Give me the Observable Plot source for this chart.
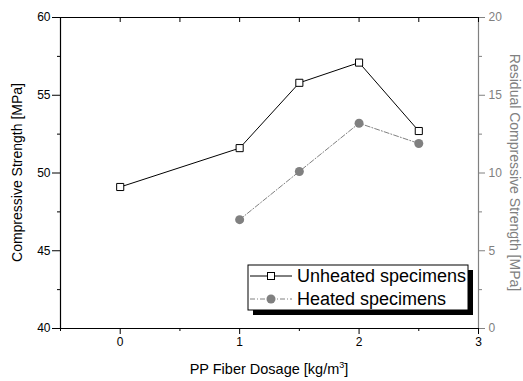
<!DOCTYPE html>
<html>
<head>
<meta charset="utf-8">
<script src="https://cdn.jsdelivr.net/npm/d3@7"></script>
<script src="https://cdn.jsdelivr.net/npm/@observablehq/plot@0.6"></script>
<style>
  html, body { margin: 0; padding: 0; background: #fff; }
  #chart svg { display: block; }
</style>
</head>
<body>
<div id="chart"></div>
<script>
// ---- data ----
const dosage = [0, 1, 1.5, 2, 2.5];
const unheated = [49.1, 51.6, 55.8, 57.1, 52.7];
const heatedDosage = [1, 1.5, 2, 2.5];
const heated = [7.0, 10.1, 13.2, 11.9];
const xTicks = [0, 1, 2, 3];
const xMinorTicks = [-0.5, 0.5, 1.5, 2.5];
const leftTicks = [40, 45, 50, 55, 60];
const leftMinorTicks = [42.5, 47.5, 52.5, 57.5];
const rightTicks = [0, 5, 10, 15, 20];
const rightMinorTicks = [2.5, 7.5, 12.5, 17.5];
const rightOffset = 40; // right axis 0..20 maps onto left 40..60
const seriesNames = ["Unheated specimens", "Heated specimens"];
const gray = "#808080";

const W = 523, H = 381;
const mL = 60, mR = 45, mT = 17, mB = 53;
const innerH = H - mT - mB;

const unheatedData = dosage.map((d, i) => ({x: d, y: unheated[i]}));
const heatedData = heatedDosage.map((d, i) => ({x: d, y: heated[i] + rightOffset}));

const plot = Plot.plot({
  width: W, height: H,
  marginLeft: mL, marginRight: mR, marginTop: mT, marginBottom: mB,
  x: {domain: [-0.5, 3]},
  y: {domain: [40, 60]},
  style: {fontFamily: "'Liberation Sans', Arial, sans-serif", fontSize: "12px", color: "black", background: "white"},
  marks: [
    // frame
    Plot.ruleY([40], {stroke: "black", strokeWidth: 1.2}),
    Plot.ruleY([60], {stroke: "black", strokeWidth: 1.2}),
    Plot.ruleX([-0.5], {stroke: "black", strokeWidth: 1.2}),
    Plot.ruleX([3], {stroke: gray, strokeWidth: 1.2}),
    // bottom axis
    Plot.axisX(xTicks, {tickSize: 6, tickPadding: 3, label: null, fontSize: 12, tickFormat: d => String(d)}),
    Plot.axisX(xMinorTicks, {tickSize: 3, tickFormat: () => "", label: null}),
    // top inward ticks
    Plot.tickX([...xMinorTicks, ...xTicks], {x: d => d, stroke: "black", insetBottom: innerH - 5}),
    // left axis
    Plot.axisY(leftTicks, {tickSize: 8, tickPadding: 2, label: null, fontSize: 12, tickFormat: d => String(d)}),
    Plot.axisY(leftMinorTicks, {tickSize: 3, tickFormat: () => "", label: null}),
    // right axis (gray)
    Plot.axisY(rightTicks.map(v => v + rightOffset), {anchor: "right", tickSize: 6, tickPadding: 4, color: gray, tickFormat: d => String(d - rightOffset), label: null, fontSize: 12}),
    Plot.axisY(rightMinorTicks.map(v => v + rightOffset), {anchor: "right", tickSize: 3, color: gray, tickFormat: () => "", label: null}),
    // heated series
    Plot.line(heatedData, {x: "x", y: "y", stroke: gray, strokeWidth: 1, strokeDasharray: "5,2,1,2"}),
    Plot.dot(heatedData, {x: "x", y: "y", r: 4.5, fill: gray, stroke: "none"}),
    // unheated series
    Plot.line(unheatedData, {x: "x", y: "y", stroke: "black", strokeWidth: 1}),
    Plot.dot(unheatedData, {x: "x", y: "y", r: 4, symbol: "square", fill: "white", stroke: "black", strokeWidth: 1})
  ]
});

document.getElementById("chart").appendChild(plot);

const svg = d3.select(plot);
const font = "'Liberation Sans', Arial, sans-serif";

// axis titles
const xl = svg.append("text")
  .attr("x", mL + (W - mL - mR) / 2).attr("y", 374)
  .attr("text-anchor", "middle").attr("font-family", font).attr("font-size", 14.5).attr("fill", "black");
xl.append("tspan").text("PP Fiber Dosage [kg/m");
xl.append("tspan").text("3").attr("font-size", 9).attr("dy", -6);
xl.append("tspan").text("]").attr("dy", 6);

svg.append("text")
  .attr("transform", `translate(22,${mT + innerH / 2}) rotate(-90)`)
  .attr("text-anchor", "middle").attr("font-family", font).attr("font-size", 14).attr("fill", "black")
  .text("Compressive Strength [MPa]");

svg.append("text")
  .attr("transform", `translate(510,${mT + innerH / 2}) rotate(90)`)
  .attr("text-anchor", "middle").attr("font-family", font).attr("font-size", 14).attr("fill", gray)
  .text("Residual Compressive Strength [MPa]");

// legend
const lg = svg.append("g").attr("text-anchor", "start");
const bx = 248, by = 265, bw = 220, bh = 45;
lg.append("rect").attr("x", bx + 5).attr("y", by + 5).attr("width", bw).attr("height", bh).attr("fill", "black");
lg.append("rect").attr("x", bx).attr("y", by).attr("width", bw).attr("height", bh).attr("fill", "white").attr("stroke", "black").attr("stroke-width", 1);
const rows = [
  {name: seriesNames[0], y: by + 11, stroke: "black", dash: null, marker: "square"},
  {name: seriesNames[1], y: by + 34, stroke: gray, dash: "5,2,1,2", marker: "circle"}
];
rows.forEach(r => {
  const ln = lg.append("line").attr("x1", bx + 2).attr("x2", bx + 44).attr("y1", r.y).attr("y2", r.y)
    .attr("stroke", r.stroke).attr("stroke-width", 1);
  if (r.dash) ln.attr("stroke-dasharray", r.dash);
  if (r.marker === "square") {
    lg.append("rect").attr("x", bx + 23 - 3.5).attr("y", r.y - 3.5).attr("width", 7).attr("height", 7)
      .attr("fill", "white").attr("stroke", "black");
  } else {
    lg.append("circle").attr("cx", bx + 23).attr("cy", r.y).attr("r", 4.5).attr("fill", gray);
  }
  lg.append("text").attr("x", bx + 49).attr("y", r.y).attr("dy", "0.36em").attr("text-anchor", "start")
    .attr("font-family", font).attr("font-size", 18).attr("fill", "black").text(r.name);
});
</script>
</body>
</html>
